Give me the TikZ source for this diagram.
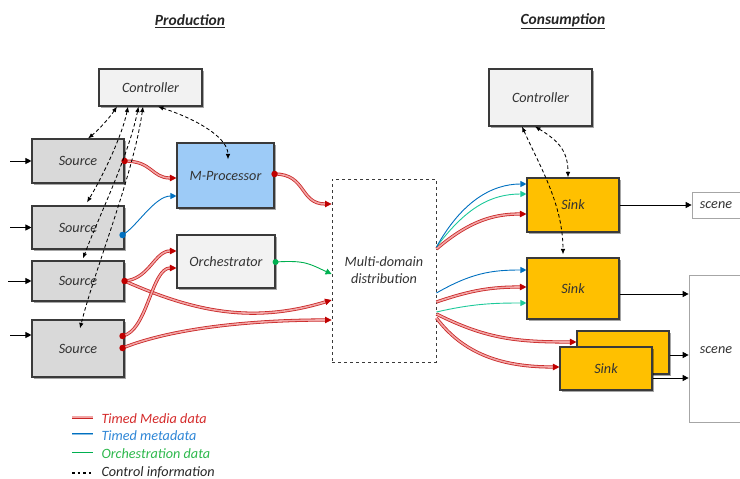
\documentclass[tikz,border=0pt]{standalone}
\usepackage{fontspec}
\setmainfont{Carlito}
\usetikzlibrary{arrows.meta,calc,shadows}

\definecolor{mred}{HTML}{C00000}
\definecolor{mpink}{HTML}{F2A6A6}
\definecolor{mblue}{HTML}{0070C0}
\definecolor{mgreen}{HTML}{00B050}
\definecolor{mteal}{HTML}{1CC99A}
\definecolor{boxline}{HTML}{3A3A3A}
\definecolor{srcfill}{HTML}{D9D9D9}
\definecolor{ctlfill}{HTML}{F2F2F2}
\definecolor{procfill}{HTML}{9DCBF7}
\definecolor{sinkfill}{HTML}{FFC000}
\definecolor{scenel}{HTML}{A6A6A6}
\definecolor{legred}{HTML}{D42A2A}
\definecolor{legblue}{HTML}{2E86D6}
\definecolor{leggreen}{HTML}{2DB84C}

\tikzset{
  boxshadow/.style={drop shadow={shadow xshift=1.6pt,shadow yshift=-1.6pt,opacity=0.35,fill=black}},
  labelfont/.style={font=\itshape\fontsize{14.2}{16}\selectfont, text=black!80},
  unit/.style={draw=boxline, line width=1.1pt, boxshadow, labelfont},
  srcbox/.style={unit, fill=srcfill, minimum width=92pt},
  ctlbox/.style={unit, fill=ctlfill, minimum width=103pt},
  procbox/.style={unit, fill=procfill},
  sinkbox/.style={unit, fill=sinkfill, minimum width=92pt, minimum height=43pt},
  scenebox/.style={draw=scenel, line width=0.7pt, fill=white},
  distbox/.style={draw=boxline, dashed, line width=0.9pt, fill=white, minimum width=104pt, minimum height=183pt,
    align=center, font=\itshape\fontsize{14.2}{17}\selectfont, text=black!80},
  media/.style={draw=mred!85, double=mpink, line width=0.8pt, double distance=1.6pt,
    -{Triangle[length=6.5pt,width=6.5pt,fill=mred,color=mred]}},
  meta/.style={draw=mblue, line width=0.9pt, -{Triangle[length=6pt,width=6pt]}},
  orchd/.style={draw=mgreen, line width=0.9pt, -{Triangle[length=6pt,width=6pt]}},
  orchc/.style={draw=mteal, line width=0.9pt, -{Triangle[length=6pt,width=6pt]}},
  ctrl/.style={draw=black, dashed, line width=0.85pt, dash pattern=on 3.5pt off 2.5pt,
    {Latex[length=5.5pt,width=4.5pt]}-{Latex[length=5.5pt,width=4.5pt]}},
  feed/.style={draw=black, line width=0.9pt, -{Triangle[length=6pt,width=6pt]}},
  rdot/.style={circle, fill=mred, inner sep=0pt, minimum size=6.5pt},
  bdot/.style={circle, fill=mblue, inner sep=0pt, minimum size=6.5pt},
  gdot/.style={circle, fill=mgreen, inner sep=0pt, minimum size=6pt},
  heading/.style={font=\bfseries\itshape\fontsize{15.5}{18}\selectfont, text=black!85},
  legtext/.style={anchor=west, font=\itshape\fontsize{14.2}{16}\selectfont},
}

\begin{document}
\begin{tikzpicture}[x=1pt,y=-1pt]
\useasboundingbox (0,0) rectangle (740,479);

% headings
\node[heading] (hprod) at (190,21) {\underline{Production}};
\node[heading] (hcons) at (563,21) {\underline{Consumption}};

% production side
\node[ctlbox, minimum height=37pt] (ctrlP) at (150.5,87.5) {Controller};
\node[srcbox, minimum height=44pt] (src1) at (78,161) {Source};
\node[srcbox, minimum height=43pt] (src2) at (78,227.5) {Source};
\node[srcbox, minimum height=40pt] (src3) at (78,281) {Source};
\node[srcbox, minimum height=57pt] (src4) at (78,348.5) {Source};
\node[procbox, minimum width=97pt, minimum height=65pt] (mproc) at (225.5,175.5) {M-Processor};
\node[ctlbox, minimum width=98pt, minimum height=53pt] (orch) at (226,261.5) {Orchestrator};

% distribution
\node[distbox] (mdd) at (384,270.5) {Multi-domain\\distribution};

% consumption side
\node[ctlbox, minimum height=57pt] (ctrlC) at (540.5,97.5) {Controller};
\node[scenebox, minimum width=53pt, minimum height=26pt] (scene1) at (718.5,205) {};
\node[scenebox, minimum width=56pt, minimum height=147pt] (scene2) at (717,348.5) {};
\node[labelfont] (scene1t) at (716,205) {scene};
\node[labelfont] (scene2t) at (716,350) {scene};
\node[sinkbox, minimum height=54pt] (sink1) at (573,205) {Sink};
\node[sinkbox, minimum height=61pt] (sink2) at (573,288.5) {Sink};
\node[sinkbox] (sink3) at (623,352.5) {};
\node[sinkbox] (sink4) at (606,368.5) {Sink};

% inputs of the sources
\coordinate (in1) at (10,161);
\coordinate (in2) at (10,227.5);
\coordinate (in3) at (8,281);
\coordinate (in4) at (10,335);
\draw[feed] (in1) -- (src1.west);
\draw[feed] (in2) -- (src2.west);
\draw[feed] (in3) -- (src3.west);
\draw[feed] (in4) -- (in4 -| src4.west);

% output ports
\coordinate (p1) at (src1.east);
\coordinate (p2) at ($(src2.east)+(-2,7.5)$);
\coordinate (p3) at (src3.east);
\coordinate (p4a) at ($(src4.east)+(-2,-12.5)$);
\coordinate (p4b) at ($(src4.east)+(-2,-0.5)$);
\coordinate (p5) at ($(mproc.east)+(0,-1.5)$);
\coordinate (p6) at ($(orch.east)+(0,0.5)$);

% production flows
\draw[media] (p1) .. controls +(28,0) and +(-25,0) .. ($(mproc.west)+(0,2.5)$);
\draw[meta] (p2) .. controls +(14,-8) and +(-22,0) .. ($(mproc.west)+(0,20.5)$);
\draw[media] (p5) .. controls +(32,0) and +(-32,0) .. ($(mdd.west)+(0,-66.5)$);
\draw[orchd] (p6) .. controls +(30,-2) and +(-22,-10) .. ($(mdd.west)+(0,3.5)$);
\draw[media] (p3) .. controls +(66,29) and +(-82,25) .. ($(mdd.west)+(0,29.5)$);
\draw[media] (p4b) .. controls +(50,-20) and +(-80,0) .. ($(mdd.west)+(0,49.5)$);
\draw[media] (p3) .. controls +(25,-2) and +(-22,0) .. ($(orch.west)+(0,-10.5)$);
\draw[media] (p4a) .. controls +(25,-5) and +(-25,0) .. ($(orch.west)+(0,6.5)$);

% consumption flows
\coordinate (q1) at ($(mdd.east)+(0,-23.5)$);
\coordinate (q2) at ($(mdd.east)+(0,-21.5)$);
\coordinate (q3) at ($(mdd.east)+(0,22.5)$);
\coordinate (q4) at ($(mdd.east)+(0,31.5)$);
\coordinate (q5) at ($(mdd.east)+(0,41.5)$);
\coordinate (q6) at ($(mdd.east)+(0,43.5)$);
\coordinate (q7) at ($(mdd.east)+(0,47.5)$);
\draw[media] (q7) .. controls +(30,40) and +(-50,0) .. ($(sink4.west)+(0,-1.5)$);
\draw[media] (q6) .. controls +(50,25) and +(-60,0) .. ($(sink3.west)+(0,-10.5)$);
\draw[orchc] (q5) .. controls +(35,-8) and +(-35,0) .. ($(sink2.west)+(0,14.5)$);
\draw[media] (q4) .. controls +(35,-12) and +(-35,0) .. ($(sink2.west)+(0,-1.5)$);
\draw[meta] (q3) .. controls +(35,-20) and +(-35,0) .. ($(sink2.west)+(0,-18.5)$);
\draw[media] (q2) .. controls +(35,-30) and +(-30,0) .. ($(sink1.west)+(0,9)$);
\draw[orchc] (q1) .. controls +(30,-40) and +(-35,0) .. ($(sink1.west)+(0,-11)$);
\draw[meta] (q1) .. controls +(25,-45) and +(-35,0) .. ($(sink1.west)+(0,-21)$);

% sinks to scenes
\coordinate (o1) at (sink1.east);
\coordinate (o2) at ($(sink2.east)+(0,5.5)$);
\coordinate (o3) at ($(sink3.east)+(0,2.5)$);
\coordinate (o4) at ($(sink4.east)+(0,9.5)$);
\draw[feed] (o1) -- (scene1.west);
\draw[feed] (o2) -- (o2 -| scene2.west);
\draw[feed] (o3) -- (o3 -| scene2.west);
\draw[feed] (o4) -- (o4 -| scene2.west);

% port dots
\node[rdot] (dot1) at (p1) {};
\node[bdot] (dot2) at (p2) {};
\node[rdot] (dot3) at (p3) {};
\node[rdot] (dot4) at (p4a) {};
\node[rdot] (dot5) at (p4b) {};
\node[rdot] (dot6) at (p5) {};
\node[gdot] (dot7) at (p6) {};

% control information
\draw[ctrl] ($(ctrlP.south)+(-33.5,0)$) .. controls +(-8,12) and +(10,-8) .. ($(src1.north)+(10,0)$);
\draw[ctrl] ($(ctrlP.south)+(-22.5,0)$) .. controls +(-6,30) and +(15,-25) .. ($(src2.north)+(9,-3)$);
\draw[ctrl] ($(ctrlP.south)+(-12,0)$) .. controls +(-10,50) and +(15,-40) .. ($(src3.north)+(5,-2)$);
\draw[ctrl] ($(ctrlP.south)+(-7.5,0)$) .. controls +(-10,70) and +(15,-60) .. ($(src4.north)+(2,9)$);
\draw[ctrl] ($(ctrlP.south)+(7.5,0)$) .. controls +(45,15) and +(0,-20) .. ($(mproc.north)+(2.5,17)$);
\draw[ctrl] ($(ctrlC.south)+(-18.5,0)$) .. controls +(18,40) and +(0,-50) .. ($(sink2.north)+(-10,-3)$);
\draw[ctrl] ($(ctrlC.south)+(-5.5,0)$) .. controls +(25,15) and +(0,-25) .. ($(sink1.north)+(-5,0)$);

% legend
\coordinate (l1a) at (72,417); \coordinate (l1b) at (93,417);
\coordinate (l2a) at (72,434); \coordinate (l2b) at (93,434);
\coordinate (l3a) at (72,452); \coordinate (l3b) at (93,452);
\coordinate (l4a) at (72,473); \coordinate (l4b) at (93,473);
\draw[draw=mred!85, double=mpink, line width=0.8pt, double distance=1.4pt] (l1a) -- (l1b);
\draw[draw=mblue, double=mblue!45, line width=0.75pt, double distance=1pt] (l2a) -- (l2b);
\draw[draw=mgreen, line width=1pt] (l3a) -- (l3b);
\draw[draw=black, line width=2.6pt, dash pattern=on 2.6pt off 3pt] (l4a) -- (l4b);
\node[legtext, text=legred] (lg1) at (98,418.5) {Timed Media data};
\node[legtext, text=legblue] (lg2) at (98,435.5) {Timed metadata};
\node[legtext, text=leggreen] (lg3) at (98,453.5) {Orchestration data};
\node[legtext, text=black!85] (lg4) at (98,472.5) {Control information};
\end{tikzpicture}
\end{document}
